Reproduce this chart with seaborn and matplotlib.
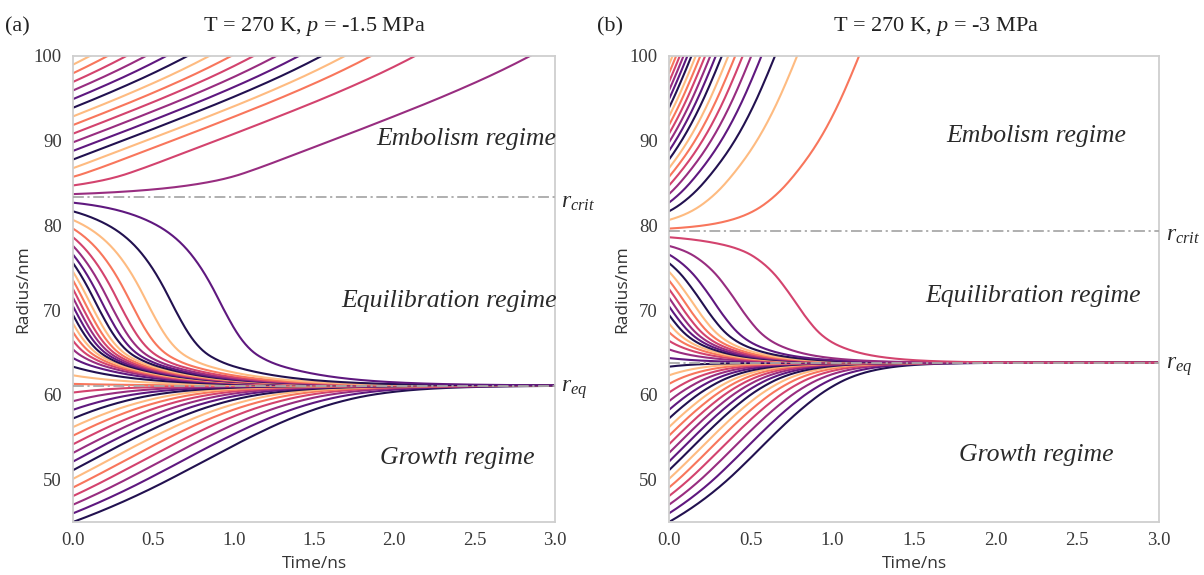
import numpy as np
import pandas as pd
import matplotlib
matplotlib.use("Agg")
import matplotlib.pyplot as plt
import seaborn as sns

# ---------------- data ----------------
# initial bubble radii (nm) - same set of runs in both panels
R0 = [45.00, 46.02, 47.04, 48.06, 49.07, 50.09, 51.11, 52.13, 53.15, 54.17,
      55.19, 56.20, 57.22, 58.24, 59.26, 60.28, 61.30, 62.31, 63.33, 64.35,
      65.37, 66.39, 67.41, 68.43, 69.44, 70.46, 71.48, 72.50, 73.52, 74.54,
      75.56, 76.57, 77.59, 78.61, 79.63, 80.65, 81.67, 82.69, 83.70, 84.72,
      85.74, 86.76, 87.78, 88.80, 89.81, 90.83, 91.85, 92.87, 93.89, 94.91,
      95.93, 96.94, 97.96, 98.98]

# panel (a): T = 270 K, p = -1.5 MPa
R_EQ_A = 61.1
R_CRIT_A = 83.34
# growth-rate table dr/dt (nm/ns) vs radius, estimated from curve slopes
RADIUS_A = [45, 47.5, 50, 53, 56, 58, 59.5, 60.5, 61.1, 62.2, 63.3, 64.5, 65.5,
            67, 68.5, 71.5, 74, 76.5, 78.3, 80, 82, 82.75, 83.34, 84.2, 85.2,
            86.2, 87.5, 90, 94, 97, 100]
RATE_A = [7.0, 8.5, 9.8, 10.2, 9.0, 7.0, 4.5, 1.8, 0.0, -2.8, -5.5, -11, -19,
          -28, -34, -38, -32, -24, -17, -10.5, -4.2, -1.8, 0.0, 1.6, 3.7,
          6.5, 7.2, 7.2, 7.6, 8.5, 10]

# panel (b): T = 270 K, p = -3 MPa
R_EQ_B = 63.8
R_CRIT_B = 79.35
RADIUS_B = [45, 47, 49, 51, 54, 57, 59.5, 61.5, 62.5, 63.2, 63.8, 64.5, 65.8,
            67, 68.1, 70.6, 73.4, 75, 76.3, 77.0, 77.7, 78.6, 79.35, 80.0,
            81.0, 82.5, 85, 88, 92, 96, 100]
RATE_B = [11, 13.5, 16, 18.5, 19.5, 18, 15, 10, 6, 3, 0.0, -2.8, -8.6, -16,
          -23, -29, -25, -18, -12.5, -8, -4.5, -1.5, 0.0, 2.6, 7, 14, 22,
          27, 36, 44, 48]

TITLES = ["T = 270 K, $p$ = -1.5 MPa", "T = 270 K, $p$ = -3 MPa"]
PANEL_TAGS = ["(a)", "(b)"]
REGIMES = ["Embolism regime", "Equilibration regime", "Growth regime"]
REGIME_POS_A = [(2.45, 90.2), (2.34, 71.1), (2.39, 52.6)]
REGIME_POS_B = [(2.25, 90.6), (2.23, 71.7), (2.25, 52.9)]
X_TICKS = [0.0, 0.5, 1.0, 1.5, 2.0, 2.5, 3.0]
Y_TICKS = [50, 60, 70, 80, 90, 100]


def trajectories(r0, nodes, rates, t):
    r = np.array(r0, dtype=float)
    out = np.empty((len(t), len(r)))
    out[0] = r
    dt = t[1] - t[0]

    def f(x):
        return np.interp(x, nodes, rates)

    for i in range(1, len(t)):
        k1 = f(r)
        k2 = f(r + 0.5 * dt * k1)
        k3 = f(r + 0.5 * dt * k2)
        k4 = f(r + dt * k3)
        r = r + dt / 6.0 * (k1 + 2 * k2 + 2 * k3 + k4)
        out[i] = r
    return out


def long_frame(r0, nodes, rates):
    t = np.linspace(0, 3, 1201)
    traj = trajectories(r0, nodes, rates, t)
    frames = []
    for j in range(traj.shape[1]):
        frames.append(pd.DataFrame({"time": t, "radius": traj[:, j],
                                    "run": f"run{j:02d}"}))
    df = pd.concat(frames, ignore_index=True)
    return df[df["radius"] <= 101.5]


sns.set_theme(style="white")
plt.rcParams["mathtext.fontset"] = "custom"
plt.rcParams["mathtext.rm"] = "Liberation Serif"
plt.rcParams["mathtext.it"] = "Liberation Serif:italic"

base = sns.color_palette("magma", 6)
runs = [f"run{j:02d}" for j in range(len(R0))]
pal = {name: base[j % 6] for j, name in enumerate(runs)}

W, H = 1204, 575
fig = plt.figure(figsize=(W / 100, H / 100), dpi=100)
ax_a = fig.add_axes([73 / W, 1 - 522 / H, 482 / W, 466 / H])
ax_b = fig.add_axes([669 / W, 1 - 522 / H, 490 / W, 466 / H])

panels = [
    (ax_a, RADIUS_A, RATE_A, R_EQ_A, R_CRIT_A, REGIME_POS_A),
    (ax_b, RADIUS_B, RATE_B, R_EQ_B, R_CRIT_B, REGIME_POS_B),
]

serif = "Liberation Serif"
for k, (ax, nodes, rates, req, rcrit, rpos) in enumerate(panels):
    df = long_frame(R0, nodes, rates)
    sns.lineplot(data=df, x="time", y="radius", hue="run", hue_order=runs,
                 palette=pal, legend=False, linewidth=1.5, estimator=None,
                 sort=False, ax=ax)
    for yv in (req, rcrit):
        ax.axhline(yv, color="#a9a9a9", linewidth=1.3, dashes=(6, 2, 1.2, 2),
                   zorder=5)
    ax.set_xlim(0, 3)
    ax.set_ylim(45, 100)
    ax.set_xticks(X_TICKS)
    ax.set_yticks(Y_TICKS)
    ax.set_xticklabels([f"{v:.1f}" for v in X_TICKS], fontfamily=serif,
                       fontsize=13.5, color="#3a3a3a")
    ax.set_yticklabels([str(v) for v in Y_TICKS], fontfamily=serif,
                       fontsize=13.5, color="#3a3a3a")
    ax.tick_params(axis="x", length=0, pad=7.5)
    ax.tick_params(axis="y", length=0, pad=8)
    ax.set_xlabel("Time/ns", fontfamily="Open Sans", fontsize=12.5,
                  color="#333333", labelpad=5)
    ax.set_ylabel("Radius/nm", fontfamily="Open Sans", fontsize=12.5,
                  color="#333333", labelpad=1.5 if k == 0 else 0)
    for sp in ax.spines.values():
        sp.set_color("#cfcfcf")
        sp.set_linewidth(1.3)
    for label, (tx, ty) in zip(REGIMES, rpos):
        ax.text(tx, ty, label, fontfamily=serif, fontstyle="italic",
                fontsize=18.5, color="#2a2a2a", ha="center", va="center")
    ax.text(3.04, rcrit - 0.4, r"$r_{crit}$", fontsize=17, color="#2a2a2a",
            ha="left", va="center", clip_on=False)
    ax.text(3.04, req - 0.4, r"$r_{eq}$", fontsize=17, color="#2a2a2a",
            ha="left", va="center", clip_on=False)

fig.text(314 / W, 1 - 27 / H, TITLES[0], fontfamily=serif, fontsize=16,
         color="#222222", ha="center", va="center")
fig.text(936 / W, 1 - 27 / H, TITLES[1], fontfamily=serif, fontsize=16,
         color="#222222", ha="center", va="center")
fig.text(5 / W, 1 - 27 / H, PANEL_TAGS[0], fontfamily=serif, fontsize=16,
         color="#222222", ha="left", va="center")
fig.text(597 / W, 1 - 27 / H, PANEL_TAGS[1], fontfamily=serif, fontsize=16,
         color="#222222", ha="left", va="center")

fig.savefig("out.png", dpi=100)
